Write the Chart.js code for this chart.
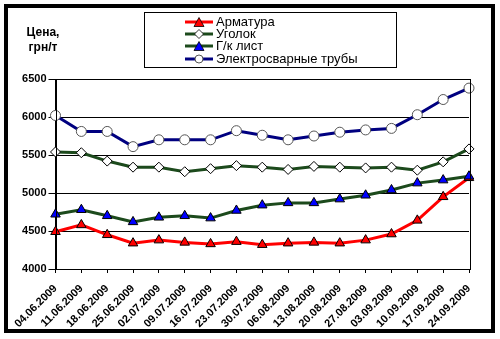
<!DOCTYPE html>
<html>
<head>
<meta charset="utf-8">
<script src="https://cdn.jsdelivr.net/npm/chart.js@4"></script>
<style>
html,body{margin:0;padding:0;background:#fff;}
body{width:500px;height:339px;position:relative;overflow:hidden;font-family:"Liberation Sans",Arial,sans-serif;}
#frame{position:absolute;left:4px;top:4px;width:491px;height:329px;border:4px solid #000;box-sizing:border-box;}
#wrap{position:absolute;left:0;top:0;width:500px;height:339px;}
#ytitle{position:absolute;left:18px;top:25px;width:50px;text-align:center;font-weight:bold;font-size:12px;line-height:15px;color:#000;}
#legend{position:absolute;left:144px;top:12px;width:253px;height:56px;border:1px solid #000;box-sizing:border-box;background:#fff;}
.li{position:absolute;left:40px;height:12px;font-size:13px;line-height:12px;color:#000;white-space:nowrap;}
.li svg{position:absolute;left:0;top:1px;}
.li span{position:absolute;left:31px;top:0;}
</style>
</head>
<body>
<div id="wrap"><canvas id="c" width="500" height="339"></canvas></div>
<div id="frame"></div>
<div id="ytitle">Цена,<br>грн/т</div>
<div id="legend"></div>
<script>
const dates = ["04.06.2009","11.06.2009","18.06.2009","25.06.2009","02.07.2009","09.07.2009","16.07.2009","23.07.2009","30.07.2009","06.08.2009","13.08.2009","20.08.2009","27.08.2009","03.09.2009","10.09.2009","17.09.2009","24.09.2009"];
const armatura = [4490,4580,4450,4340,4380,4350,4330,4360,4320,4340,4350,4340,4380,4460,4640,4950,5200];
const ugolok   = [5540,5530,5420,5340,5340,5280,5320,5360,5340,5310,5350,5340,5330,5340,5300,5410,5580];
const gkList   = [4720,4780,4700,4620,4680,4700,4670,4770,4840,4870,4870,4920,4970,5040,5130,5170,5220];
const truby    = [6020,5810,5810,5610,5700,5700,5700,5820,5760,5700,5750,5800,5830,5850,6030,6230,6380];
const seriesNames = ["Арматура","Уголок","Г/к лист","Электросварные трубы"];
const yTicks = [4000,4500,5000,5500,6000,6500];

const styles = [
  {line:"#ff0000", style:"triangle", fill:"#ff0000", border:"#000", r:5.5},
  {line:"#1c4a1c", style:"rectRot", fill:"#ffffff", border:"#000", r:5},
  {line:"#1c4a1c", style:"triangle", fill:"#0000ff", border:"#000", r:5.5},
  {line:"#000080", style:"circle", fill:"#ffffff", border:"#555", r:5}
];
const values = [armatura, ugolok, gkList, truby];

// legend
const lg = document.getElementById('legend');
seriesNames.forEach((n,i)=>{
  const s = styles[i];
  let marker;
  if(s.style==="triangle") marker = `<polygon points="14,0.5 19,9.5 9,9.5" fill="${s.fill}" stroke="#000" stroke-width="0.8"/>`;
  else if(s.style==="rectRot") marker = `<polygon points="14,0.5 18.5,5 14,9.5 9.5,5" fill="#fff" stroke="#000" stroke-width="0.8"/>`;
  else marker = `<circle cx="14" cy="5" r="4" fill="#fff" stroke="#555" stroke-width="1"/>`;
  const d = document.createElement('div');
  d.className='li';
  d.style.top = (3 + i*12.2) + 'px';
  d.innerHTML = `<svg width="28" height="10"><line x1="0" y1="5" x2="28" y2="5" stroke="${s.line}" stroke-width="3"/>${marker}</svg><span>${n}</span>`;
  lg.appendChild(d);
});

const frameBox = {
  id:'frameBox',
  afterDraw(chart){
    const a = chart.chartArea, ctx = chart.ctx;
    ctx.save();
    ctx.strokeStyle='#000'; ctx.lineWidth=1;
    ctx.strokeRect(Math.round(a.left)+0.5, Math.round(a.top)+0.5, Math.round(a.right-a.left), Math.round(a.bottom-a.top));
    ctx.restore();
  }
};

new Chart(document.getElementById('c'), {
  type:'line',
  data:{
    labels:dates,
    datasets: seriesNames.map((n,i)=>({
      label:n,
      data:values[i],
      borderColor:styles[i].line,
      borderWidth:3,
      pointStyle:styles[i].style,
      pointRadius:styles[i].r,
      pointBackgroundColor:styles[i].fill,
      pointBorderColor:styles[i].border,
      pointBorderWidth:1,
      tension:0,
      order: i===0 ? 2 : (i===2 ? 1 : 3)
    }))
  },
  options:{
    responsive:false,
    animation:false,
    devicePixelRatio:1,
    layout:{padding:{left:0,right:31,top:79,bottom:3}},
    plugins:{legend:{display:false},tooltip:{enabled:false}},
    scales:{
      x:{
        offset:false,
        grid:{display:true,drawOnChartArea:false,color:'#000',tickLength:4},
        border:{color:'#000',width:1},
        ticks:{color:'#000',font:{family:'"Liberation Sans", Arial',size:11,weight:'bold'},maxRotation:45,minRotation:45,autoSkip:false,padding:9},
        afterFit(s){s.height=67;}
      },
      y:{
        min:4000,max:6500,
        afterBuildTicks(s){s.ticks = yTicks.map(v=>({value:v}));},
        grid:{color:'#000',lineWidth:1,tickLength:7},
        border:{color:'#000',width:1},
        ticks:{color:'#000',font:{family:'"Liberation Sans", Arial',size:11,weight:'bold'},padding:2,callback:(v)=>String(v)},
        afterFit(s){s.width=55.5;}
      }
    }
  },
  plugins:[frameBox]
});
</script>
</body>
</html>
